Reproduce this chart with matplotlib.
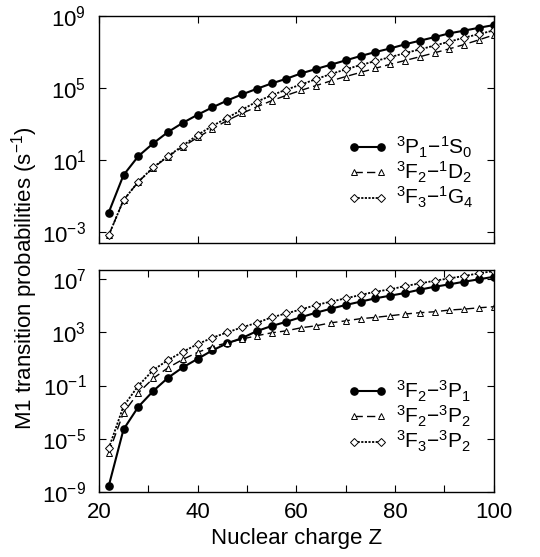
import matplotlib
matplotlib.use("Agg")
import matplotlib.pyplot as plt
import numpy as np
from matplotlib.ticker import LogFormatterMathtext, MultipleLocator, NullLocator

plt.rcParams["font.family"] = ["Liberation Sans", "DejaVu Sans"]
plt.rcParams["mathtext.fontset"] = "custom"
plt.rcParams["mathtext.rm"] = "Liberation Sans"
plt.rcParams["mathtext.it"] = "Liberation Sans"
plt.rcParams["mathtext.default"] = "regular"

# nuclear charge, every third ion from Ti-like Z=22 up to Z=100
Z = np.arange(22, 101, 3)

# top panel: log10 of rates (s^-1)
top_3p1_1s0 = [-1.91, 0.17, 1.22, 1.93, 2.56, 3.07, 3.52, 3.93, 4.31, 4.65,
               4.96, 5.26, 5.52, 5.82, 6.06, 6.30, 6.54, 6.78, 7.00, 7.20,
               7.43, 7.63, 7.83, 8.04, 8.19, 8.35, 8.50]
top_3f2_1d2 = [-3.17, -1.22, -0.20, 0.57, 1.20, 1.74, 2.26, 2.74, 3.20, 3.60,
               3.96, 4.30, 4.60, 4.88, 5.14, 5.40, 5.64, 5.87, 6.10, 6.32,
               6.53, 6.74, 6.96, 7.18, 7.42, 7.68, 7.95]
top_3f3_1g4 = [-3.17, -1.22, -0.20, 0.60, 1.22, 1.80, 2.40, 2.90, 3.35, 3.80,
               4.25, 4.60, 4.92, 5.20, 5.50, 5.78, 6.04, 6.28, 6.50, 6.72,
               6.94, 7.15, 7.36, 7.58, 7.80, 8.00, 8.20]

# bottom panel: log10 of rates (s^-1)
bot_3f2_3p1 = [-8.56, -4.30, -2.60, -1.42, -0.42, 0.36, 1.00, 1.64, 2.17, 2.56,
               3.09, 3.47, 3.79, 4.14, 4.47, 4.77, 5.05, 5.30, 5.55, 5.75,
               5.95, 6.20, 6.42, 6.60, 6.80, 6.98, 7.17]
bot_3f2_3p2 = [-6.06, -3.05, -1.55, -0.47, 0.33, 0.96, 1.49, 1.91, 2.21, 2.49,
               2.74, 2.96, 3.11, 3.34, 3.49, 3.71, 3.86, 4.02, 4.12, 4.24,
               4.37, 4.47, 4.54, 4.67, 4.74, 4.84, 4.92]
bot_3f3_3p2 = [-5.73, -2.55, -1.02, 0.16, 0.91, 1.53, 2.11, 2.59, 2.99, 3.37,
               3.71, 4.12, 4.42, 4.72, 5.05, 5.30, 5.55, 5.80, 6.05, 6.22,
               6.47, 6.67, 6.87, 7.05, 7.23, 7.43, 7.60]

top_labels = [r"$^{3}P_{1}{-}^{1}S_{0}$", r"$^{3}F_{2}{-}^{1}D_{2}$",
              r"$^{3}F_{3}{-}^{1}G_{4}$"]
bot_labels = [r"$^{3}F_{2}{-}^{3}P_{1}$", r"$^{3}F_{2}{-}^{3}P_{2}$",
              r"$^{3}F_{3}{-}^{3}P_{2}$"]

styles = [
    dict(ls="-", lw=1.5, marker="o", ms=5.2, mfc="black", mec="black"),
    dict(ls=(0, (6, 3)), lw=1.0, marker="^", ms=4.8, mfc="white", mec="black", mew=0.7),
    dict(ls=(0, (1.2, 0.8)), lw=1.3, marker="D", ms=3.6, mfc="white", mec="black", mew=0.7),
]


def draw_panel(ax, series, labels, legend_anchor):
    for vals, lab, st in zip(series, labels, styles):
        ax.plot(Z, 10.0 ** np.array(vals), color="black", label=lab, **st)
    ax.set_yscale("log")
    ax.set_xlim(20, 100)
    ax.yaxis.set_major_formatter(LogFormatterMathtext())
    ax.yaxis.set_minor_locator(NullLocator())
    ax.tick_params(which="both", direction="in", top=True, right=True,
                   length=5, width=0.8, labelsize=16)
    ax.tick_params(axis="y", pad=9)
    ax.tick_params(axis="x", pad=7)
    for sp in ax.spines.values():
        sp.set_linewidth(1.0)
    ax.legend(loc="center left", bbox_to_anchor=legend_anchor,
              frameon=False, numpoints=2, handlelength=1.9, handletextpad=0.4,
              labelspacing=0.0, fontsize=15, borderaxespad=0.0, borderpad=0.0)


fig = plt.figure(figsize=(5.40, 5.57), dpi=100)
ax_top = fig.add_axes([0.183, 0.5637, 0.7315, 0.4075])
ax_bot = fig.add_axes([0.183, 0.1167, 0.7315, 0.3986])

draw_panel(ax_top, [top_3p1_1s0, top_3f2_1d2, top_3f3_1g4], top_labels, (0.63, 0.31))
ax_top.set_ylim(10 ** -3.6, 1e9)
ax_top.set_yticks([1e-3, 1e1, 1e5, 1e9])
ax_top.xaxis.set_major_locator(MultipleLocator(20))
ax_top.set_xticklabels([])

draw_panel(ax_bot, [bot_3f2_3p1, bot_3f2_3p2, bot_3f3_3p2], bot_labels, (0.63, 0.34))
ax_bot.set_ylim(1e-9, 10 ** 7.68)
ax_bot.set_yticks([1e-9, 1e-5, 1e-1, 1e3, 1e7])
ax_bot.xaxis.set_major_locator(MultipleLocator(20))
ax_bot.xaxis.set_minor_locator(MultipleLocator(10))
ax_bot.set_xlabel("Nuclear charge Z", fontsize=16, labelpad=4)

fig.text(0.045, 0.50, r"M1 transition probabilities (s$^{-1}$)", rotation=90,
         ha="center", va="center", fontsize=16)

fig.savefig("out.png", dpi=100)
